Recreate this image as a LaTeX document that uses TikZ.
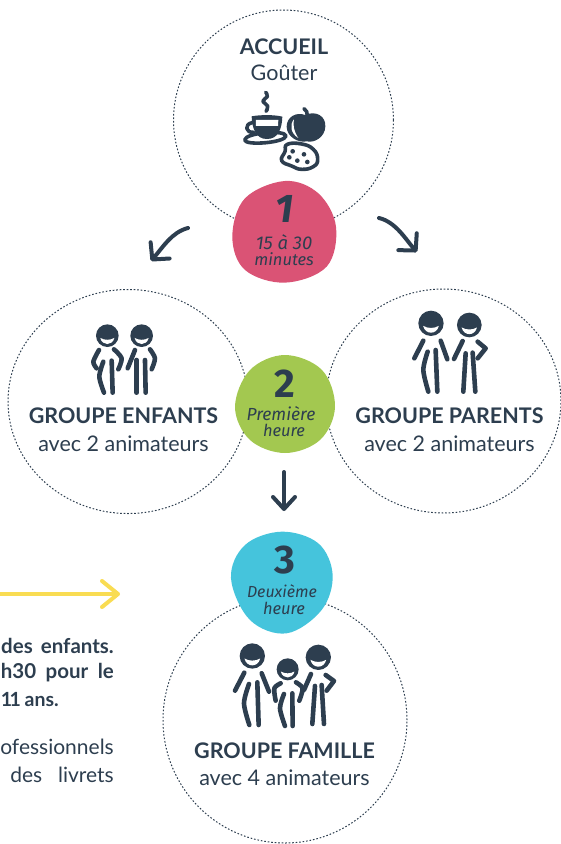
\documentclass[tikz,border=0pt]{standalone}
\usepackage{fontspec}
\setmainfont{Lato}
\newfontfamily\handfont{Fira Sans}
\usetikzlibrary{arrows.meta,shapes.geometric}
\definecolor{inkcol}{HTML}{2D3E4F}
\definecolor{rosecol}{HTML}{DA5375}
\definecolor{greencol}{HTML}{A3C850}
\definecolor{bluecol}{HTML}{45C4DC}
\definecolor{yellowcol}{HTML}{F9DC52}
\tikzset{
	ringnode/.style={draw=inkcol, shape=ellipse, inner sep=0pt, line width=1pt, line cap=butt, dash pattern=on 1.6pt off 1.9pt},
	titlenode/.style={text=inkcol, font=\fontsize{21.5}{24}\selectfont\bfseries, inner sep=0pt},
	subnode/.style={text=inkcol, font=\fontsize{21.5}{24}\selectfont, inner sep=0pt},
	numnode/.style={text=inkcol, font=\handfont\fontsize{40}{42}\selectfont\bfseries, inner sep=0pt},
	handnode/.style={text=inkcol, font=\handfont\fontsize{16.5}{19}\selectfont\itshape\mdseries, inner sep=0pt},
	sidenode/.style={text=inkcol, anchor=east, font=\fontsize{21}{23}\selectfont, inner sep=0pt},
	sidebold/.style={sidenode, font=\fontsize{20.5}{23}\selectfont\bfseries},
	limb/.style={draw=inkcol, line width=4.6pt, line cap=round, line join=round},
	cupline/.style={limb, line width=3.6pt},
	flowarrow/.style={draw=inkcol, line width=4pt, line cap=round, -{Straight Barb[round,length=12pt,width=25pt]}},
	headicon/.pic={
		\fill[inkcol] (0,0) circle (1);
		\fill[white] (-0.62,0.2) .. controls (-0.25,0.42) and (0.25,0.42) .. (0.62,0.2)
		.. controls (0.45,0.92) and (-0.45,0.92) .. cycle;
	},
	zoomed/.style 2 args={shift={(#1,#2)}, x=0.3333pt, y=-0.3333pt},
}
\begin{document}
\begin{tikzpicture}[x=1pt,y=-1pt,line cap=round,line join=round]
	\useasboundingbox (0,0) rectangle (561,844);

	% dotted rings
	\node[ringnode, minimum width=220pt, minimum height=220pt] (ringaccueil) at (283.5,120) {};
	\node[ringnode, minimum width=240pt, minimum height=224pt] (ringenfants) at (128,401.5) {};
	\node[ringnode, minimum width=235pt, minimum height=224pt] (ringparents) at (443.5,401) {};
	\node[ringnode, minimum width=244pt, minimum height=246pt] (ringfamille) at (285,720) {};

	% blobs
	\fill[rosecol, shift={(170,0)}, x=0.3333pt, y=-0.3333pt] plot[smooth cycle, tension=0.6] coordinates
	{(345,543) (445,580) (498,680) (470,800) (345,848) (225,810) (187,710) (225,595)};
	\fill[greencol] plot[smooth cycle, tension=0.6] coordinates
	{(285,355) (322,370) (335,407) (320,440) (285,453) (250,440) (235,407) (250,370)};
	\fill[bluecol, shift={(160,525)}, x=0.3333pt, y=-0.3333pt] plot[smooth cycle, tension=0.6] coordinates
	{(365,20) (475,55) (518,150) (485,255) (380,325) (270,285) (213,160) (255,60)};

	% labels of the blobs
	\node[numnode, font=\handfont\fontsize{40}{42}\selectfont\bfseries\itshape] (numun) at (285,209) {1};
	\node[handnode, font=\handfont\fontsize{18.5}{19}\selectfont\itshape] (dureeun) at (284,242) {15 à 30};
	\node[handnode] (dureedeux) at (284,259) {minutes};
	\node[numnode] (numdeux) at (285,384) {2};
	\node[handnode, font=\handfont\fontsize{17.5}{19}\selectfont\itshape] (premiere) at (281,414) {Première};
	\node[handnode] (heureun) at (284,430) {heure};
	\node[numnode] (numtrois) at (285,560) {3};
	\node[handnode, font=\handfont\fontsize{16}{19}\selectfont\itshape] (deuxieme) at (282,591) {Deuxième};
	\node[handnode] (heuredeux) at (284,608) {heure};

	% texts of the rings
	\node[titlenode] (accueil) at (284,47) {ACCUEIL};
	\node[subnode] (gouter) at (284,73) {Goûter};
	\node[titlenode] (enfants) at (123.5,416) {GROUPE ENFANTS};
	\node[subnode] (enfantsanim) at (123.5,444) {avec 2 animateurs};
	\node[titlenode] (parents) at (449.5,416) {GROUPE PARENTS};
	\node[subnode] (parentsanim) at (449.5,444) {avec 2 animateurs};
	\node[titlenode] (famille) at (284.5,751) {GROUPE FAMILLE};
	\node[subnode] (familleanim) at (284.5,778) {avec 4 animateurs};

	% side text
	\node[sidebold] (sideun) at (114,646) {des\hspace{0.15em} enfants.};
	\node[sidebold] (sidedeux) at (114,673) {h30\hspace{0.22em} pour\hspace{0.22em} le};
	\node[sidebold, font=\fontsize{19.5}{23}\selectfont\bfseries] (sidetrois) at (59,700) {1\kern-2.5pt 1\kern-1pt{} ans.};
	\node[sidenode] (sidequatre) at (114,747) {ofessionnels};
	\node[sidenode] (sidecinq) at (114,775) {des\hspace{0.5em} livrets};

	% arrows
	\coordinate (gaucheA) at (188,228);
	\coordinate (gaucheB) at (151,261);
	\coordinate (droiteA) at (379,218);
	\coordinate (droiteB) at (417,252);
	\coordinate (basA) at (284,472);
	\coordinate (basB) at (284,511);
	\coordinate (jauneA) at (0,594);
	\coordinate (jauneB) at (120,594);
	\draw[flowarrow] (gaucheA) .. controls (172,232) and (163,247) .. (gaucheB);
	\draw[flowarrow] (droiteA) .. controls (396,222) and (406,240) .. (droiteB);
	\draw[flowarrow, -{Straight Barb[round,length=12pt,width=22pt]}] (basA) -- (basB);
	\draw[flowarrow, draw=yellowcol, -{Straight Barb[round,length=16pt,width=26pt]}] (jauneA) -- (jauneB);

	% goûter
	\begin{scope}[zoomed={170}{0}]
		\draw[cupline] plot[smooth, tension=0.9] coordinates {(287,277) (292,290) (279,303) (293,318) (288,334)};
		\draw[cupline, fill=white] (224,420) .. controls (226,398) and (345,388) .. (348,408)
		.. controls (346,428) and (226,438) .. cycle;
		\draw[cupline] (247,368) .. controls (222,372) and (226,400) .. (252,397);
		\fill[inkcol] (245,349) .. controls (270,344) and (315,344) .. (337,350)
		.. controls (336,385) and (325,418) .. (290,417) .. controls (258,417) and (246,385) .. cycle;
		\fill[white] (258,360) -- (325,360) -- (324,378) -- (258,378) -- cycle;
		\fill[inkcol] (405,345) .. controls (440,330) and (468,350) .. (466,380)
		.. controls (465,410) and (435,430) .. (410,424) .. controls (385,430) and (350,410) .. (350,380)
		.. controls (350,350) and (380,335) .. cycle;
		\draw[cupline] (402,326) .. controls (410,330) and (412,338) .. (412,348);
		\fill[white] (372,358) .. controls (358,375) and (362,400) .. (385,414)
		.. controls (372,395) and (368,375) .. cycle;
		\draw[cupline, fill=white] plot[smooth cycle, tension=0.8] coordinates
		{(352,433) (395,432) (430,448) (443,478) (430,500) (395,508) (365,498) (335,482) (345,455)};
		\foreach \dotx/\doty in {368/454, 402/463, 358/472, 382/482, 412/486}
			\fill[inkcol] (\dotx,\doty) circle (7);
	\end{scope}

	% enfants
	\begin{scope}[zoomed={0}{290}]
		\pic[scale=34] at (322,137) {headicon};
		\draw[limb] plot[smooth] coordinates {(297,180) (280,215) (290,235)};
		\draw[limb] plot[smooth] coordinates {(342,178) (365,205) (355,238)};
		\draw[limb] plot[smooth] coordinates {(310,215) (298,260) (312,308)};
		\draw[limb] (335,212) -- (338,308);
		\pic[scale=34] at (425,137) {headicon};
		\draw[limb] (405,180) -- (383,235);
		\draw[limb] plot[smooth] coordinates {(450,178) (465,205) (455,238)};
		\draw[limb] (410,210) -- (410,308);
		\draw[limb] (435,210) -- (437,308);
	\end{scope}

	% parents
	\begin{scope}[zoomed={320}{290}]
		\pic[scale=38] at (333,100) {headicon};
		\draw[limb] (310,152) -- (283,205);
		\draw[limb] (362,152) -- (382,208);
		\draw[limb] plot[smooth] coordinates {(323,185) (310,240) (325,305)};
		\draw[limb] (347,180) -- (352,305);
		\pic[scale=37] at (448,105) {headicon};
		\draw[limb] (428,153) -- (402,207);
		\draw[limb] (473,155) -- (497,175) -- (473,205);
		\draw[limb] (437,190) -- (430,305);
		\draw[limb] (458,188) -- (466,305);
	\end{scope}

	% famille
	\begin{scope}[zoomed={160}{525}]
		\pic[scale=38] at (277,393) {headicon};
		\draw[limb] (253,443) -- (225,497);
		\draw[limb] (305,445) -- (327,500);
		\draw[limb] plot[smooth] coordinates {(267,477) (252,535) (268,600)};
		\draw[limb] (292,472) -- (296,600);
		\pic[scale=33] at (383,433) {headicon};
		\draw[limb] plot[smooth] coordinates {(362,475) (343,490) (347,527)};
		\draw[limb] plot[smooth] coordinates {(408,472) (428,490) (418,527)};
		\draw[limb] plot[smooth] coordinates {(372,507) (360,550) (375,603)};
		\draw[limb] (397,505) -- (398,603);
		\pic[scale=38] at (475,397) {headicon};
		\draw[limb] (453,447) -- (432,495);
		\draw[limb] (497,450) -- (522,468) -- (500,497);
		\draw[limb] (465,483) -- (457,597);
		\draw[limb] (485,480) -- (492,597);
	\end{scope}
\end{tikzpicture}
\end{document}
